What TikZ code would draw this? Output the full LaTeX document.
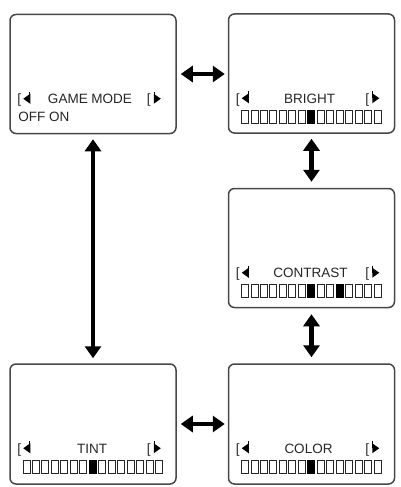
\documentclass[tikz,border=0pt]{standalone}
\usepackage{fontspec}
\setmainfont{Liberation Sans}
\usetikzlibrary{arrows.meta,calc}
\newcommand\myind[1]{%
  % left indicator
  \node[lbl, anchor=base west] (#1-lb) at ($(#1.north west)+(8,90)$) {[};
  \fill ($(#1.north west)+(14,85)$) -- ($(#1.north west)+(21,80)$) -- ($(#1.north west)+(21,90)$) -- cycle;
  \draw[line width=1pt] ($(#1.north west)+(20.5,78)$) -- ($(#1.north west)+(20.5,85)$);
  % right indicator
  \node[lbl, anchor=base west] (#1-rb) at ($(#1.north east)+(-30,90)$) {[};
  \fill ($(#1.north east)+(-16,85)$) -- ($(#1.north east)+(-23,80)$) -- ($(#1.north east)+(-23,90)$) -- cycle;
  \draw[line width=1pt] ($(#1.north east)+(-22.5,78)$) -- ($(#1.north east)+(-22.5,85)$);
}
\newcommand\mybar[2]{%
  \foreach \i in {0,...,14}{
    \draw[cellE] ($(#1.north)+(-70+\i*9.47,97)$) rectangle ++(7,13);
  }
  \foreach \i in {#2}{
    \fill ($(#1.north)+(-70.5+\i*9.47,96.5)$) rectangle ++(8,14);
  }
}
\begin{document}
\begin{tikzpicture}[x=1pt,y=-1pt,
  screen/.style={draw=black!72, line width=1.5pt, rounded corners=6pt,
    minimum width=166pt, minimum height=119pt, inner sep=0pt},
  lbl/.style={font=\fontsize{13.5}{15}\selectfont, inner sep=0pt, text=black!85},
  dbl/.style={{Triangle[length=12pt,width=16pt]}-{Triangle[length=12pt,width=16pt]},
    line width=4.5pt},
  cellE/.style={draw=black!85, line width=0.9pt}]
\useasboundingbox (0,0) rectangle (401,487);
\node[screen] (b1) at (93,74) {};
\node[screen] (b2) at (311.5,73.5) {};
\node[screen] (b3) at (311.5,248) {};
\node[screen, minimum height=120pt] (b4) at (93,424) {};
\node[screen, minimum height=120pt] (b5) at (311.5,424) {};

% labels
\node[lbl, anchor=base] (t1) at ($(b1.north)+(-3,90)$) {GAME MODE};
\node[lbl, anchor=base west] (t1b) at ($(b1.north west)+(9,108)$) {OFF ON};
\node[lbl, anchor=base] (t2) at ($(b2.north)+(-2,90)$) {BRIGHT};
\node[lbl, anchor=base] (t3) at ($(b3.north)+(-1,90)$) {CONTRAST};
\node[lbl, anchor=base] (t4) at ($(b4.north)+(-1,90)$) {TINT};
\node[lbl, anchor=base] (t5) at ($(b5.north)+(-3,90)$) {COLOR};

\myind{b1}
\myind{b2}
\myind{b3}
\myind{b4}
\myind{b5}

\mybar{b2}{7}
\mybar{b3}{7,10}
\mybar{b4}{7}
\mybar{b5}{7}

% arrows
\draw[dbl, shorten <=4pt, shorten >=3pt] (b1.east) -- (b1.east -| b2.west);
\draw[dbl, shorten <=4pt, shorten >=3pt] (b4.east) -- (b5.west);
\draw[dbl, shorten <=5pt, shorten >=5pt] (b1.south) -- (b4.north);
\draw[dbl, shorten <=5pt, shorten >=6pt] (b2.south) -- (b3.north);
\draw[dbl, shorten <=6pt, shorten >=6pt] (b3.south) -- (b5.north);
\end{tikzpicture}
\end{document}
